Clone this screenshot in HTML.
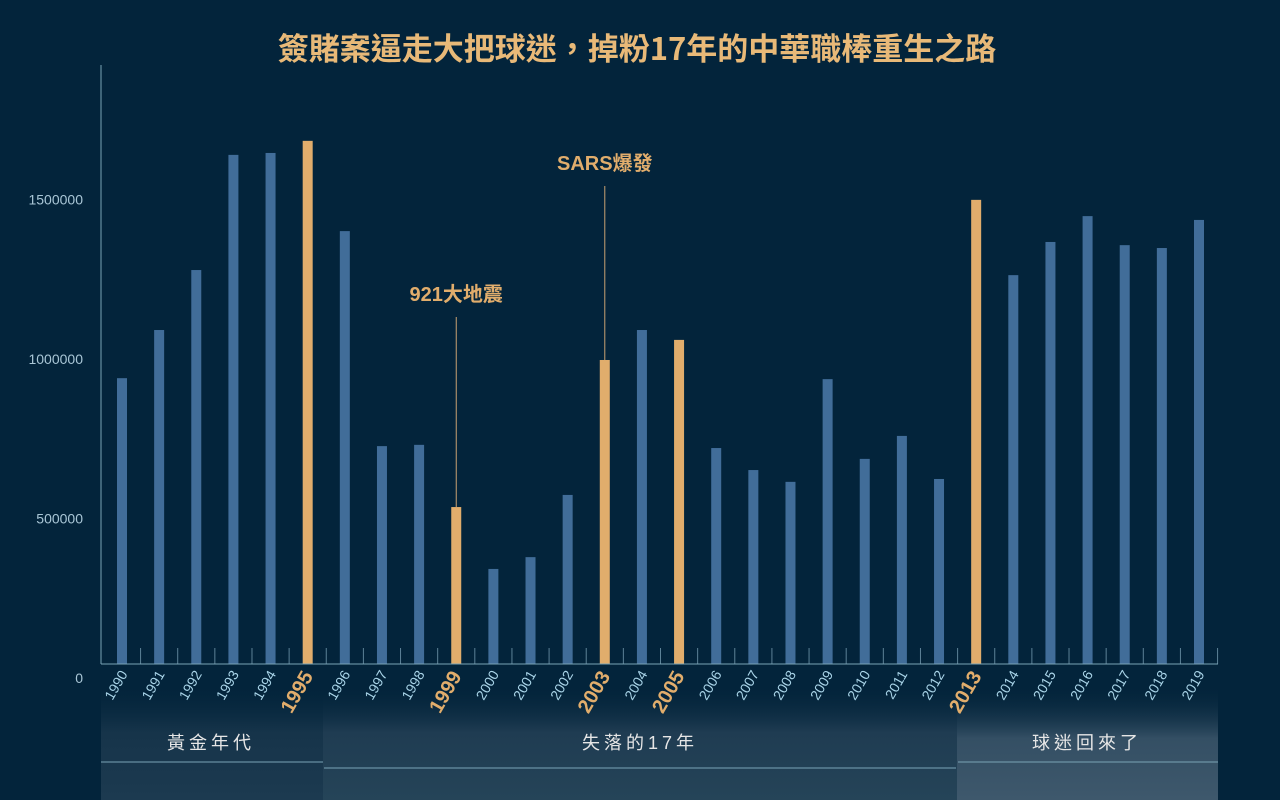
<!DOCTYPE html>
<html><head><meta charset="utf-8"><style>
html,body{margin:0;padding:0;background:#03243b;}
svg{display:block;font-family:"Liberation Sans","Noto Sans CJK TC",sans-serif;}
</style></head><body>
<svg id="chart" width="1280" height="800" viewBox="0 0 1280 800">
<defs>
<linearGradient id="g1" x1="0" y1="0" x2="0" y2="1"><stop offset="0" stop-color="#0a2a40" stop-opacity="0"/><stop offset="0.4" stop-color="#16344a"/><stop offset="1" stop-color="#1c3a50"/></linearGradient>
<linearGradient id="g2" x1="0" y1="0" x2="0" y2="1"><stop offset="0" stop-color="#0a2a40" stop-opacity="0"/><stop offset="0.4" stop-color="#1f3c52"/><stop offset="1" stop-color="#254458"/></linearGradient>
<linearGradient id="g3" x1="0" y1="0" x2="0" y2="1"><stop offset="0" stop-color="#0a2a40" stop-opacity="0"/><stop offset="0.45" stop-color="#344f64"/><stop offset="1" stop-color="#3e586c"/></linearGradient>
</defs>
<rect x="0" y="0" width="1280" height="800" fill="#03243b"/>
<text x="637" y="60" text-anchor="middle" font-family="'Noto Sans CJK TC','Liberation Sans',sans-serif" font-weight="bold" font-size="31" fill="#e8b978">簽賭案逼走大把球迷，掉粉17年的中華職棒重生之路</text>
<rect x="101" y="688" width="222" height="112" fill="url(#g1)"/>
<rect x="323" y="688" width="634" height="112" fill="url(#g2)"/>
<rect x="957" y="688" width="261" height="112" fill="url(#g3)"/>
<line x1="101" y1="762" x2="323" y2="762" stroke="#7aa3b6" stroke-width="1"/>
<line x1="324" y1="768" x2="956" y2="768" stroke="#7aa3b6" stroke-width="1"/>
<line x1="958" y1="762" x2="1218" y2="762" stroke="#7aa3b6" stroke-width="1"/>
<text x="211" y="749" text-anchor="middle" font-size="18" fill="#e6e6e6" letter-spacing="4">黃金年代</text>
<text x="640" y="749" text-anchor="middle" font-size="18" fill="#e6e6e6" letter-spacing="4">失落的17年</text>
<text x="1087" y="749" text-anchor="middle" font-size="18" fill="#e6e6e6" letter-spacing="4">球迷回來了</text>
<line x1="101" y1="65" x2="101" y2="664" stroke="#7aa3b6" stroke-width="1"/>
<g id="marks"></g>
</svg>
<script>
const years = ["1990","1991","1992","1993","1994","1995","1996","1997","1998","1999","2000","2001","2002","2003","2004","2005","2006","2007","2008","2009","2010","2011","2012","2013","2014","2015","2016","2017","2018","2019"];
const attendance = [896000,1047000,1235000,1596000,1602000,1640000,1357000,683000,687000,492000,298000,335000,530000,953000,1047000,1016000,677000,608000,571000,893000,643000,715000,580000,1455000,1219000,1323000,1404000,1313000,1304000,1392000];
const highlightYears = ["1995","1999","2003","2005","2013"];
const yTicks = [0,500000,1000000,1500000];
const yTickLabels = ["0","500000","1000000","1500000"];
const annotations = [{year:"1999",label:"921大地震"},{year:"2003",label:"SARS爆發"}];

const NS="http://www.w3.org/2000/svg";
const g=document.getElementById('marks');
const baseY=664, pxPer=319/1000000;
const yScale=v=>baseY-v*pxPer;
const x0=122, step=(1199-122)/29;
const xScale=i=>x0+i*step;
function mk(tag,attrs){const e=document.createElementNS(NS,tag);for(const k in attrs)e.setAttribute(k,attrs[k]);g.appendChild(e);return e;}
yTicks.forEach((t,i)=>{
  const e=mk('text',{x:83,y:yScale(t)+19,'text-anchor':'end','font-size':14,fill:'#a9c6d6'});
  e.textContent=yTickLabels[i];
  
  
});
years.forEach((yr,i)=>{
  const hi=highlightYears.includes(yr);
  const x=xScale(i), top=yScale(attendance[i]);
  const b=mk('rect',{x:x-5,y:top,width:10,height:baseY-top,fill:hi?'#e1ad6c':'#416d99'});
  
  
  const tk=mk('line',{x1:x+step/2,y1:648,x2:x+step/2,y2:664,stroke:'#5d8297','stroke-width':1});
  
  
  const ly=hi?676:674, lx=x+6;
  const lbl=mk('text',{x:lx,y:ly,'text-anchor':'end','font-size':hi?20:14,'font-weight':hi?'bold':'normal',fill:hi?'#e1ad6c':'#a9d4e8',transform:`rotate(-60 ${lx} ${ly})`});
  lbl.textContent=yr;
  
  
});
const ax=mk('line',{x1:101,y1:664,x2:1218,y2:664,stroke:'#7aa3b6','stroke-width':1});


annotations.forEach(a=>{
  const i=years.indexOf(a.year);const x=xScale(i);
  const top=yScale(attendance[i]);
  const lineTop=a.year==="1999"?317:186;
  const l=mk('line',{x1:x,y1:lineTop,x2:x,y2:top,stroke:'#c9a272','stroke-width':1});
  
  
  const t=mk('text',{x:x,y:lineTop-16,'text-anchor':'middle','font-size':20,'font-weight':'bold',fill:'#e1ad6c'});
  t.textContent=a.label;
  
  
});
</script>
</body></html>
